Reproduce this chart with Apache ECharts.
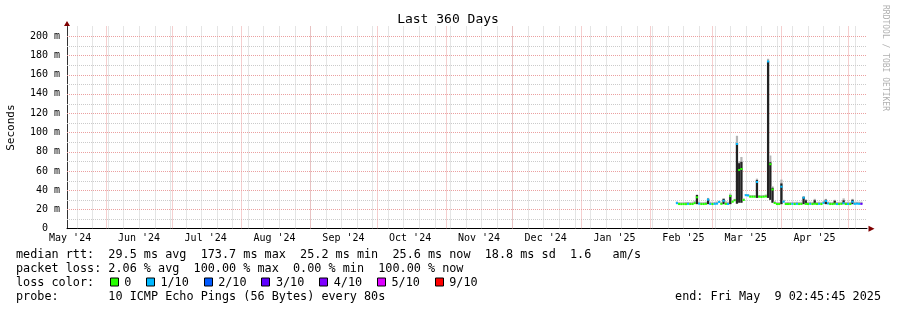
<!DOCTYPE html>
<html><head><meta charset="utf-8">
<script src="https://cdn.jsdelivr.net/npm/echarts@6/dist/echarts.min.js"></script>
<style>html,body{margin:0;padding:0;background:#fff}#c{width:897px;height:310px}</style>
</head><body><div id="c"></div>
<script>
const DAY = 86400000;
const startTime = Date.parse('2024-05-14T14:24:00Z');
const endTime = startTime + 360 * DAY;
const dataStart = Date.parse('2025-02-12T14:00:00Z');

// month boundaries (major grid) and labels (centred mid-month)
const monthStarts = ['2024-06-01','2024-07-01','2024-08-01','2024-09-01','2024-10-01','2024-11-01','2024-12-01','2025-01-01','2025-02-01','2025-03-01','2025-04-01','2025-05-01'];
const monthLabelDays = ['2024-05-16','2024-06-16','2024-07-16','2024-08-16','2024-09-16','2024-10-16','2024-11-16','2024-12-16','2025-01-16','2025-02-16','2025-03-16','2025-04-16'];
const monthLabels = ["May '24","Jun '24","Jul '24","Aug '24","Sep '24","Oct '24","Nov '24","Dec '24","Jan '25","Feb '25","Mar '25","Apr '25"];
const firstWeek = '2024-05-19';
const yLabelValues = [0,20,40,60,80,100,120,140,160,180,200];
const yMinorValues = [10,30,50,70,90,110,130,150,170,190];

// daily bins starting at dataStart (values in ms)
const median = [26.5,25.6,25.5,25.6,25.5,25.8,25.6,25.6,26.5,32.6, 26.0,25.6,25.6,25.8,30.2,25.7,25.6,25.8,26.0,27.8,
  25.8,29.0,25.8,25.7,34.0,28.0,29.5,88.0,61.0,62.0, 29.8,34.8,34.5,33.2,33.2,33.2,48.5,33.2,33.0,33.2,
  33.5,173.7,67.0,40.7,26.7,25.6,25.6,43.6,28.0,25.6, 25.6,25.6,25.8,25.6,25.8,25.6,25.7,32.2,25.8,25.6,
  25.8,25.6,26.0,25.6,25.8,25.6,26.8,28.8,26.2,25.6, 25.6,26.0,25.6,25.6,25.8,26.5,25.6,25.7,25.6,28.0,
  25.8,26.0,25.8,25.8];
const smokeDarkLow = [null,null,null,null,null,null,null,null,null,25.5, null,null,null,null,25.5,null,null,null,null,null,
  null,25.5,null,null,25.5,null,null,26.0,27.0,27.0, null,null,null,null,null,null,32.0,null,null,null,
  null,32.0,30.0,27.0,null,null,null,25.5,null,null, null,null,null,null,null,null,null,25.5,25.5,null,
  null,null,25.5,null,null,null,null,25.5,null,null, null,25.5,null,null,null,25.5,null,null,null,25.5,
  null,null,null,null];
const smokeDarkHigh = [null,null,null,null,null,null,null,null,null,35.0, null,null,null,null,31.0,null,null,null,null,null,
  null,31.0,null,null,35.0,null,null,89.0,68.0,69.5, null,null,null,null,null,null,50.5,null,null,null,
  null,174.0,69.0,42.5,null,null,null,47.0,null,null, null,null,null,null,null,null,null,33.0,29.5,null,
  null,null,29.5,null,null,null,null,30.0,null,null, null,29.0,null,null,null,29.5,null,null,null,30.0,
  null,null,null,null];
const smokeTop = [28.2,27.6,27.5,27.6,27.8,27.8,27.6,28.0,29.0,35.5, 28.0,27.6,27.6,28.0,32.0,28.0,27.6,27.8,28.2,29.0,
  28.0,31.5,28.5,28.0,36.5,29.5,31.0,96.5,70.0,74.5, 31.5,36.0,36.0,35.0,35.0,35.0,52.0,35.0,35.0,35.0,
  35.5,176.5,76.0,44.0,28.5,27.6,27.6,51.0,30.0,27.6, 27.8,27.8,28.0,27.8,28.0,27.8,28.0,34.0,30.5,27.8,
  28.0,27.8,31.0,27.8,28.0,27.8,29.0,31.0,28.2,27.8, 27.8,30.0,27.8,27.8,28.0,31.5,27.8,28.0,27.8,31.0,
  28.0,28.0,28.0,28.0];
const lossIndex = [1,0,0,0,0,1,0,0,0,0, 1,0,0,0,1,1,0,1,1,1,
  0,1,0,1,0,0,0,1,0,0, 0,1,1,0,0,0,1,0,0,0,
  0,1,0,0,0,0,0,1,1,0, 0,0,1,0,1,0,0,1,0,0,
  1,0,0,0,1,0,1,1,1,0, 0,0,1,0,0,1,0,1,0,1,
  1,1,1,3];

const lossLabels = ['0','1/10','2/10','3/10','4/10','5/10','9/10'];
const lossColors = ['#26ff00','#00b8ff','#0059ff','#5e00ff','#7e00ff','#dd00ff','#ff0000'];

const statsLines = [
  'median rtt:  29.5 ms avg  173.7 ms max  25.2 ms min  25.6 ms now  18.8 ms sd  1.6   am/s',
  'packet loss: 2.06 % avg  100.00 % max  0.00 % min  100.00 % now'
];
const probeText = 'probe:       10 ICMP Echo Pings (56 Bytes) every 80s';
const endText = 'end: Fri May  9 02:45:45 2025';

const rows = median.map((m, i) => [dataStart + i * DAY, m, smokeDarkLow[i], smokeDarkHigh[i], smokeTop[i], lossIndex[i]]);

// grid line items: [x, y, kind]  kind 0 = minor, 1 = major ; vertical when y < 0
const gridItems = [];
for (let t = Date.parse(firstWeek); t < endTime; t += 7 * DAY) gridItems.push([t, -1, 0]);
yMinorValues.forEach(v => gridItems.push([-1, v, 0]));
monthStarts.forEach(d => gridItems.push([Date.parse(d), -1, 1]));
yLabelValues.filter(v => v > 0).forEach(v => gridItems.push([-1, v, 1]));

const MONO = '"DejaVu Sans Mono", monospace';
const gridColor = '#cbcbcb';
const mgridColor = '#eba0a0';

const chart = echarts.init(document.getElementById('c'));
const labelTimes = monthLabelDays.map(d => Date.parse(d));

const charW = 7.1, legW = 7.22, textX = 16;
const graphics = [];
graphics.push({type:'text', x: 448, y: 19.5, style:{text:'Last 360 Days', font:'13px ' + MONO, fill:'#000', align:'center', verticalAlign:'middle'}});
graphics.push({type:'text', x: 885, y: 5, rotation: -Math.PI/2, style:{text:'RRDTOOL / TOBI OETIKER', font:'8px ' + MONO, fill:'#b0b0b0', align:'left', verticalAlign:'middle'}});
const lineY = [254.5, 268.5, 282.5, 296.5];
statsLines.forEach((s, k) => graphics.push({type:'text', x: textX, y: lineY[k], style:{text:s, font:'11.8px ' + MONO, fill:'#000', verticalAlign:'middle'}}));
graphics.push({type:'text', x: textX, y: lineY[2], style:{text:'loss color:', font:'11.8px ' + MONO, fill:'#000', verticalAlign:'middle'}});
let idx = 13;
lossLabels.forEach((lab, k) => {
  const bx = textX + idx * legW;
  graphics.push({type:'rect', shape:{x: Math.round(bx) + 0.5, y: lineY[2] - 4.5, width: 8, height: 8}, style:{fill: lossColors[k], stroke:'#000', lineWidth:1}});
  graphics.push({type:'text', x: textX + (idx + 2) * legW, y: lineY[2], style:{text: lab, font:'11.8px ' + MONO, fill:'#000', verticalAlign:'middle'}});
  idx += 2 + lab.length + 2;
});
graphics.push({type:'text', x: textX, y: lineY[3], style:{text: probeText, font:'11.8px ' + MONO, fill:'#000', verticalAlign:'middle'}});
graphics.push({type:'text', x: 881, y: lineY[3], style:{text: endText, font:'11.8px ' + MONO, fill:'#000', align:'right', verticalAlign:'middle'}});

chart.setOption({
  animation: false,
  backgroundColor: '#fff',
  grid: {left: 67, top: 26.5, width: 800, height: 202.2, containLabel: false, outerBoundsMode: 'none'},
  xAxis: {type: 'value', min: startTime, max: endTime,
    axisLine: {show: true, lineStyle: {color: '#000', width: 1}},
    axisTick: {show: false},
    splitLine: {show: false},
    axisLabel: {customValues: labelTimes, margin: 5, color: '#000', fontFamily: 'DejaVu Sans Mono', fontSize: 10,
      formatter: v => { const i = labelTimes.indexOf(v); return i >= 0 ? monthLabels[i] : ''; }}
  },
  yAxis: {type: 'value', min: 0, max: 210,
    name: 'Seconds', nameLocation: 'middle', nameGap: 50, nameRotate: 90,
    nameTextStyle: {fontFamily: 'DejaVu Sans Mono', fontSize: 11, color: '#000'},
    axisLine: {show: true, lineStyle: {color: '#333', width: 1}},
    axisTick: {show: false},
    splitLine: {show: false},
    axisLabel: {customValues: yLabelValues, margin: 7, color: '#000', fontFamily: 'DejaVu Sans Mono', fontSize: 10,
      formatter: v => v === 0 ? '0  ' : v + ' m'}
  },
  series: [
    {type: 'custom', z: 1, silent: true, data: gridItems, clip: false, encode: {x: 0, y: 1},
      renderItem: function (params, api) {
        const cs = params.coordSys;
        const xv = api.value(0), yv = api.value(1), kind = api.value(2);
        const color = kind === 1 ? mgridColor : gridColor;
        let shape;
        if (yv < 0) {
          const x = Math.round(api.coord([xv, 0])[0]) + 0.5;
          shape = {x1: x, y1: cs.y, x2: x, y2: cs.y + cs.height};
        } else {
          const y = Math.round(api.coord([startTime, yv])[1]) + 0.5;
          shape = {x1: cs.x, y1: y, x2: cs.x + cs.width, y2: y};
        }
        return {type: 'line', shape: shape, style: {stroke: color, lineWidth: 1, lineDash: [1, 1]}};
      }},
    {type: 'custom', z: 5, data: rows, encode: {x: 0, y: 1},
      renderItem: function (params, api) {
        const t = api.value(0);
        const x0 = api.coord([t, 0])[0];
        const x1 = api.coord([t + DAY, 0])[0];
        const w = x1 - x0;
        const med = api.value(1), dlo = api.value(2), dhi = api.value(3), top = api.value(4), loss = api.value(5);
        const ch = [];
        const base = dlo > 0 ? dlo : med;
        const yTop = api.coord([t, top])[1], yBase = api.coord([t, base])[1];
        ch.push({type:'rect', shape:{x:x0, y:yTop, width:w, height:yBase - yTop}, style:{fill:'#b4b4b4'}});
        if (dhi > 0) {
          const yh = api.coord([t, dhi])[1], yl = api.coord([t, dlo])[1];
          ch.push({type:'rect', shape:{x:x0, y:yh, width:w, height:yl - yh}, style:{fill:'#222'}});
        }
        const ym = api.coord([t, med])[1];
        ch.push({type:'rect', shape:{x:x0, y:ym - 1, width:w, height:2}, style:{fill: lossColors[loss]}});
        return {type:'group', children: ch};
      }}
  ],
  graphic: graphics
});

// axis arrows (decoration)
const o = chart.convertToPixel({gridIndex: 0}, [startTime, 210]);
const e = chart.convertToPixel({gridIndex: 0}, [endTime, 0]);
chart.setOption({graphic: graphics.concat([
  {type:'polygon', shape:{points:[[o[0], o[1] - 5.5], [o[0] - 3, o[1] - 0.5], [o[0] + 3, o[1] - 0.5]]}, style:{fill:'#7f0000'}},
  {type:'polygon', shape:{points:[[e[0] + 7.5, e[1]], [e[0] + 1.5, e[1] - 3], [e[0] + 1.5, e[1] + 3]]}, style:{fill:'#7f0000'}}
])});
</script></body></html>
